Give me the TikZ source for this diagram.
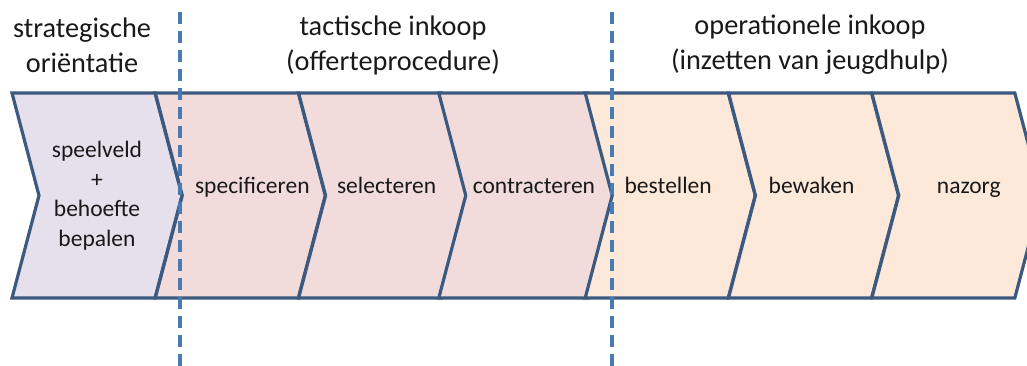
\documentclass[tikz,border=0pt]{standalone}
\usepackage{fontspec}
\setmainfont{Carlito}
\usetikzlibrary{positioning,shapes.symbols}

\definecolor{strategyfill}{HTML}{E5E0EC}
\definecolor{tacticfill}{HTML}{F2DCDB}
\definecolor{operationfill}{HTML}{FDE9D9}
\definecolor{chevronline}{HTML}{3C5A80}
\definecolor{phaseline}{HTML}{4A7AB2}

\begin{document}
\begin{tikzpicture}[
    x=1pt, y=-1pt,
    node distance=143.3pt,
    step node/.style={signal,signal to=east,signal from=west,signal pointer angle=150.5,
        draw=chevronline,line width=3.2pt,minimum width=170pt,minimum height=205pt,
        inner sep=0pt,align=center,text=black!90,font=\fontsize{23.5}{29.5}\selectfont},
    strategy node/.style={step node,fill=strategyfill},
    tactic node/.style={step node,fill=tacticfill,text height=8pt,text depth=12pt},
    operation node/.style={step node,fill=operationfill,text height=8pt,text depth=12pt},
    text nudge/.style={execute at begin node={\hspace*{#1}},execute at end node={\hspace*{-#1}}},
    phase label/.style={align=center,text=black!90,font=\fontsize{28.3}{35}\selectfont},
    phase border/.style={draw=phaseline,line width=3.2pt,dash pattern=on 12pt off 7pt}]

  \useasboundingbox (0,0) rectangle (1027,366);
  \clip (0,0) rectangle (1027,366);

  % process steps
  \node[strategy node] (Speelveld) at (97,195.5) {speelveld\\+\\behoefte\\bepalen};
  \node[tactic node,text nudge=12pt] (Specificeren) [right of=Speelveld] {specificeren};
  \node[tactic node,text nudge=3pt] (Selecteren) [right of=Specificeren] {selecteren};
  \node[tactic node,text nudge=7pt] (Contracteren) [right of=Selecteren] {contracteren};
  \node[operation node,text nudge=-2pt] (Bestellen) [right of=Contracteren] {bestellen};
  \node[operation node,text nudge=-2pt] (Bewaken) [right of=Bestellen] {bewaken};
  \node[operation node,text nudge=12pt] (Nazorg) [right of=Bewaken] {nazorg};

  % phase headings
  \node[phase label] (Strategisch) at (82,45) {strategische\\oriëntatie};
  \node[phase label] (Tactisch) at (393,45) {tactische inkoop\\(offerteprocedure)};
  \node[phase label] (Operationeel) at (810,45) {operationele inkoop\\(inzetten van jeugdhulp)};

  % phase borders
  \coordinate (BorderOneTop) at (180,12);
  \coordinate (BorderOneBottom) at (180,366);
  \coordinate (BorderTwoTop) at (612,12);
  \coordinate (BorderTwoBottom) at (612,366);
  \draw[phase border] (BorderOneTop) -- (BorderOneBottom);
  \draw[phase border] (BorderTwoTop) -- (BorderTwoBottom);

\end{tikzpicture}
\end{document}
